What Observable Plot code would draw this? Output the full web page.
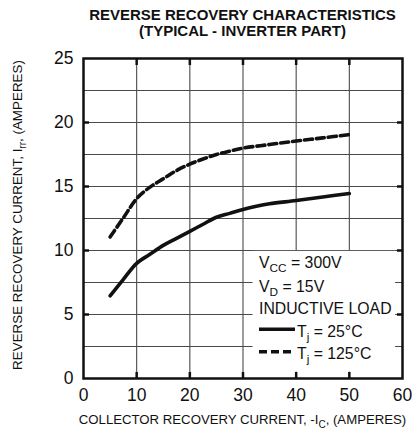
<!DOCTYPE html>
<html>
<head>
<meta charset="utf-8">
<script src="https://cdn.jsdelivr.net/npm/d3@7"></script>
<script src="https://cdn.jsdelivr.net/npm/@observablehq/plot@0.6"></script>
<style>
  body { margin: 0; background: white; }
  svg { display: block; }
</style>
</head>
<body>
<div id="chart"></div>
<script>
// Collector recovery current -Ic (A)
const ic25 = [5, 7.5, 10, 12.5, 15, 17.5, 20, 22.5, 25, 27.5, 30, 32.5, 35, 40, 45, 50];
// Reverse recovery current Irr (A), Tj = 25°C
const irr25 = [6.45, 7.75, 9.0, 9.7, 10.4, 10.95, 11.5, 12.05, 12.6, 12.9, 13.2, 13.45, 13.65, 13.9, 14.18, 14.45];
const ic125 = [5, 7.5, 10, 12.5, 15, 17.5, 20, 22.5, 25, 27.5, 30, 35, 40, 45, 50];
// Tj = 125°C
const irr125 = [11.06, 12.55, 14.05, 14.95, 15.6, 16.25, 16.75, 17.15, 17.5, 17.76, 18.0, 18.28, 18.55, 18.8, 19.06];

const xTicks = [0, 10, 20, 30, 40, 50, 60];
const yTicks = [0, 5, 10, 15, 20, 25];
const xGrid = [10, 20, 30, 40, 50];
const yGrid = [2.5, 5, 7.5, 10, 12.5, 15, 17.5, 20, 22.5];
const xMajor = [10, 20, 30, 40, 50];
const yMajor = [5, 10, 15, 20];

const titleLines = ["REVERSE RECOVERY CHARACTERISTICS", "(TYPICAL - INVERTER PART)"];
const legendBox = [{x1: 31.9, x2: 58.7, y1: 0.5, y2: 9.93}];

const s25 = ic25.map((x, i) => ({x, y: irr25[i]}));
const s125 = ic125.map((x, i) => ({x, y: irr125[i]}));

const font = "'Liberation Sans', Arial, Helvetica, sans-serif";
const gridColor = "#4a4a4a";

const plot = Plot.plot({
  width: 412,
  height: 430,
  marginTop: 58,
  marginBottom: 52,
  marginLeft: 83,
  marginRight: 10,
  style: {fontFamily: font, background: "white", color: "#111"},
  x: {domain: [0, 60]},
  y: {domain: [0, 25]},
  marks: [
    Plot.gridX(xGrid, {stroke: gridColor, strokeOpacity: 1, strokeWidth: 1.1}),
    Plot.gridY(yGrid, {stroke: gridColor, strokeOpacity: 1, strokeWidth: 1.1}),
    Plot.rect(legendBox, {x1: "x1", x2: "x2", y1: "y1", y2: "y2", fill: "white"}),
    Plot.axisX(xMajor, {anchor: "bottom", tickSize: -6, tickFormat: () => "", label: null, strokeWidth: 2.5}),
    Plot.axisX(xMajor, {anchor: "top", tickSize: -6, tickFormat: () => "", label: null, strokeWidth: 2.5}),
    Plot.axisY(yMajor, {anchor: "left", tickSize: -6, tickFormat: () => "", label: null, strokeWidth: 2.5}),
    Plot.axisY(yMajor, {anchor: "right", tickSize: -6, tickFormat: () => "", label: null, strokeWidth: 2.5}),
    Plot.axisX(xTicks, {anchor: "bottom", tickSize: 0, tickPadding: 10, fontSize: 17.5, label: null}),
    Plot.axisY(yTicks, {anchor: "left", tickSize: 0, tickPadding: 10, fontSize: 17.5, label: null}),
    Plot.frame({stroke: "#111", strokeWidth: 2.5}),
    Plot.line(s25, {x: "x", y: "y", stroke: "#111", strokeWidth: 3.6, curve: "catmull-rom"}),
    Plot.line(s125, {x: "x", y: "y", stroke: "#111", strokeWidth: 3.6, strokeDasharray: "8,4", curve: "catmull-rom"})
  ]
});

document.getElementById("chart").appendChild(plot);

const svg = d3.select(plot);
const xs = plot.scale("x"), ys = plot.scale("y");
const cx = (xs.apply(0) + xs.apply(60)) / 2;
const cy = (ys.apply(0) + ys.apply(25)) / 2;

// Title (two separate lines)
titleLines.forEach((t, i) => {
  svg.append("text")
    .attr("x", cx).attr("y", 20 + i * 16)
    .attr("text-anchor", "middle")
    .attr("font-family", font)
    .attr("font-weight", "bold")
    .attr("font-size", 15)
    .attr("fill", "#111")
    .text(t);
});

// X axis label
const xl = svg.append("text")
  .attr("x", cx).attr("y", 424)
  .attr("text-anchor", "middle")
  .attr("font-family", font).attr("font-size", 13.2).attr("fill", "#111");
xl.append("tspan").text("COLLECTOR RECOVERY CURRENT, -I");
xl.append("tspan").attr("dy", 3.5).attr("font-size", 10).text("C");
xl.append("tspan").attr("dy", -3.5).text(", (AMPERES)");

// Y axis label
const yl = svg.append("text")
  .attr("transform", `translate(22,${cy - 3}) rotate(-90)`)
  .attr("text-anchor", "middle")
  .attr("font-family", font).attr("font-size", 13.4).attr("fill", "#111");
yl.append("tspan").text("REVERSE RECOVERY CURRENT, I");
yl.append("tspan").attr("dy", 3.5).attr("font-size", 10).text("rr");
yl.append("tspan").attr("dy", -3.5).text(", (AMPERES)");

// Legend
const lx = 259, fs = 15.8;
function legendText(y, tx, main, sub, rest) {
  const t = svg.append("text").attr("x", tx).attr("y", y)
    .attr("text-anchor", "start")
    .attr("font-family", font).attr("font-size", fs).attr("fill", "#111");
  t.append("tspan").text(main);
  if (sub) {
    t.append("tspan").attr("dy", 4).attr("font-size", 11.8).text(sub);
    t.append("tspan").attr("dy", -4).text(rest);
  }
}
legendText(268, lx, "V", "CC", " = 300V");
legendText(291.5, lx, "V", "D", " = 15V");
legendText(314, lx, "INDUCTIVE LOAD");
svg.append("line").attr("x1", lx).attr("x2", 295).attr("y1", 329.3).attr("y2", 329.3)
  .attr("stroke", "#111").attr("stroke-width", 3.6);
svg.append("line").attr("x1", lx).attr("x2", 295).attr("y1", 351.7).attr("y2", 351.7)
  .attr("stroke", "#111").attr("stroke-width", 3.6).attr("stroke-dasharray", "8,4");
legendText(336.5, 297, "T", "j", " = 25°C");
legendText(359, 297, "T", "j", " = 125°C");
</script>
</body>
</html>
